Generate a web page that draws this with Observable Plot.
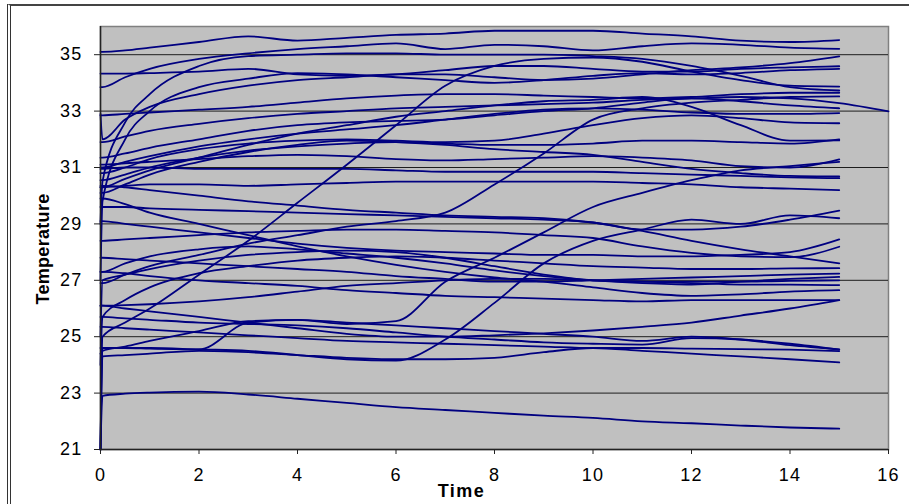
<!DOCTYPE html>
<html>
<head>
<meta charset="utf-8">
<script src="https://cdn.jsdelivr.net/npm/d3@7"></script>
<script src="https://cdn.jsdelivr.net/npm/@observablehq/plot@0.6"></script>
<style>
  html, body { margin: 0; padding: 0; background: #fff; }
  #wrap { position: relative; width: 909px; height: 504px; overflow: hidden; }
  #border { position: absolute; left: 7px; top: 4px; width: 1000px; height: 1000px;
            border-left: 4px double #333; border-top: 2px solid #444; box-sizing: border-box; }
  #chart { position: absolute; left: 0; top: 0; }
  #chart svg text { letter-spacing: 1.2px; }
  #chart svg .lbl text { letter-spacing: 1.5px; }
  #chart svg .lbly text { letter-spacing: 0.3px; }
</style>
</head>
<body>
<div id="wrap"><div id="border"></div><div id="chart"></div></div>
<script>
// Time samples (shared by every series)
const times = [0, 0.04, 0.5, 1, 2, 3, 4, 5, 6, 7, 8, 9, 10, 11, 12, 13, 14, 15, 16];

// Temperature series
const sA   = [35.1,35.1,35.15,35.25,35.45,35.65,35.5,35.6,35.7,35.75,35.85,35.85,35.85,35.75,35.65,35.5,35.45,35.52];
const sB   = [33.85,33.85,34.2,34.5,34.85,35.05,35.2,35.3,35.4,35.2,35.35,35.3,35.15,35.3,35.4,35.35,35.25,35.21];
const sC1  = [29.0,30.5,32.6,33.6,34.6,34.95,35.0,35.05,35.05,35.0,35.0,35.0,34.95,34.85,34.6,34.25,33.85,33.73];
const sD   = [34.33,34.33,34.33,34.35,34.4,34.5,34.3,34.25,34.3,34.45,34.6,34.6,34.5,34.4,34.4,34.5,34.55,34.59];
const sE   = [32.9,32.0,32.7,33.15,33.6,33.9,34.1,34.2,34.3,34.3,34.2,34.1,34.15,34.3,34.45,34.55,34.7,34.94];
const sC2  = [27.0,29.8,32.0,33.0,33.85,34.15,34.35,34.3,34.2,34.1,34.0,34.1,34.25,34.35,34.3,34.35,34.45,34.5];
const sD1  = [21.0,25.0,25.5,26.0,27.2,28.4,29.75,31.1,32.5,33.9,34.6,34.85,34.9,34.75,34.4,34.1,33.9,33.87];
const sF   = [32.85,32.85,32.9,32.95,33.05,33.15,33.3,33.45,33.55,33.6,33.6,33.55,33.5,33.45,33.5,33.6,33.65,33.65];
const sG   = [31.9,31.9,32.1,32.3,32.55,32.75,32.9,33.0,33.1,33.15,33.2,33.25,33.3,33.4,33.45,33.5,33.45,33.28,32.99];
const sH   = [31.35,31.35,31.5,31.7,32.0,32.3,32.5,32.6,32.65,32.7,32.85,33.0,33.1,33.3,33.45,33.35,33.2,33.1];
const sI   = [31.0,31.0,31.2,31.4,31.75,32.0,32.2,32.35,32.5,32.7,32.9,33.05,33.1,33.05,32.95,32.9,32.9,32.93];
const sJ   = [30.8,30.8,31.0,31.3,31.65,31.85,31.95,32.0,31.95,31.9,31.95,32.2,32.5,32.75,32.85,32.75,32.6,32.57];
const sK   = [30.55,30.55,30.75,31.0,31.35,31.6,31.75,31.85,31.9,31.85,31.8,31.8,31.85,31.95,31.95,31.9,31.85,32.0];
const sL   = [30.3,30.3,30.6,30.9,31.35,31.8,32.2,32.5,32.8,33.0,33.2,33.35,33.4,33.5,33.15,32.5,31.95,31.96];
const sM   = [31.1,31.1,31.15,31.2,31.3,31.4,31.45,31.4,31.3,31.25,31.3,31.35,31.4,31.35,31.25,31.05,31.0,31.29];
const sO   = [30.1,30.1,30.4,30.75,31.2,31.55,31.8,31.95,31.9,31.8,31.65,31.55,31.45,31.2,30.95,30.8,30.7,30.68];
const sP   = [30.95,30.95,31.0,31.0,30.95,30.95,30.95,30.95,30.9,30.85,30.85,30.85,30.85,30.8,30.75,30.7,30.65,30.62];
const sQ   = [30.3,30.3,30.35,30.4,30.4,30.35,30.4,30.45,30.5,30.5,30.5,30.5,30.5,30.45,30.4,30.3,30.25,30.2];
const sR   = [30.35,30.35,30.3,30.2,30.0,29.8,29.65,29.5,29.4,29.3,29.25,29.2,29.05,28.8,28.8,28.9,29.15,29.47];
const sS   = [29.1,29.1,29.0,28.9,28.7,28.5,28.3,28.15,28.05,28.0,27.95,27.9,27.9,27.85,27.85,27.9,28.0,28.45];
const sT   = [28.4,28.4,28.45,28.5,28.6,28.7,28.75,28.8,28.8,28.75,28.7,28.6,28.5,28.2,27.97,27.85,27.82,28.19];
const sU   = [29.6,29.6,29.6,29.55,29.5,29.45,29.4,29.35,29.3,29.25,29.2,29.15,29.05,28.75,28.4,28.1,27.85,27.6];
const sV   = [27.8,27.8,27.75,27.7,27.6,27.5,27.4,27.3,27.15,27.05,26.95,26.95,27.0,27.05,27.1,27.15,27.2,27.24];
const sW   = [27.3,27.3,27.6,27.85,28.1,28.2,28.1,27.95,27.8,27.6,27.35,27.15,27.0,26.9,26.85,26.95,27.05,27.12];
const sX   = [25.0,27.0,27.2,27.4,27.7,27.9,28.0,28.05,28.0,27.8,27.5,27.2,27.0,26.95,26.95,26.95,26.98,27.0];
const s26  = [26.1,26.1,26.12,26.15,26.25,26.4,26.6,26.8,26.9,27.0,27.05,27.05,27.0,26.95,26.9,26.85,26.85,26.83];
const sY   = [29.9,29.9,29.7,29.4,29.0,28.6,28.2,27.85,27.55,27.3,27.1,26.95,26.75,26.55,26.45,26.5,26.6,26.65];
const sZ   = [27.3,27.3,27.25,27.15,27.0,26.9,26.8,26.65,26.55,26.45,26.4,26.35,26.3,26.25,26.3,26.3,26.3,26.3];
const s263 = [26.1,26.1,26.0,25.9,25.7,25.5,25.3,25.1,25.0,25.0,25.05,25.12,25.22,25.35,25.5,25.75,26.0,26.3];
const sD2  = [24.4,24.5,24.65,24.85,25.2,25.55,25.6,25.45,25.55,26.95,27.8,28.7,29.6,30.1,30.55,30.9,31.05,31.2];
const sD3  = [21.0,24.6,24.6,24.6,24.55,24.5,24.35,24.2,24.15,24.9,26.2,27.6,28.4,28.8,29.15,29.0,29.3,29.2];
const sD4  = [26.9,26.9,27.2,27.5,27.9,28.3,28.6,28.9,29.1,29.4,30.4,31.5,32.7,33.1,33.3,33.4,33.5,33.52];
const sBB  = [24.0,25.7,26.3,26.75,27.25,27.5,27.7,27.8,27.85,27.8,27.7,27.6,27.5,27.45,27.4,27.4,27.42,27.43];
const sb1  = [21.0,24.3,24.35,24.4,24.5,24.45,24.35,24.25,24.2,24.2,24.25,24.45,24.6,24.5,24.4,24.3,24.2,24.09];
const sb3  = [25.7,25.7,25.65,25.6,25.5,25.45,25.4,25.3,25.15,25.0,24.9,24.8,24.75,24.72,24.95,24.9,24.75,24.54];
const sb5  = [24.6,24.6,24.6,24.58,24.55,25.5,25.6,25.5,25.4,25.3,25.2,25.1,25.0,24.85,25.0,24.9,24.7,24.55];
const sb6  = [25.35,25.35,25.3,25.25,25.15,25.05,24.95,24.85,24.8,24.75,24.7,24.65,24.6,24.6,24.58,24.56,24.54,24.49];
const sBot = [21.0,22.9,22.98,23.02,23.05,22.95,22.8,22.65,22.5,22.4,22.3,22.2,22.12,22.0,21.93,21.85,21.78,21.74];

const seriesList = [sA,sB,sC1,sD,sE,sC2,sD1,sF,sG,sH,sI,sJ,sK,sL,sM,sO,sP,sQ,sR,sS,sT,sU,sV,sW,sX,s26,sY,sZ,s263,sD2,sD3,sD4,sBB,sb1,sb3,sb5,sb6,sBot];

const xTicks = [0, 2, 4, 6, 8, 10, 12, 14, 16];
const yTicks = [21, 23, 25, 27, 29, 31, 33, 35];
const gridY  = [23, 25, 27, 29, 31, 33, 35];
const xTitle = "Time";
const yTitle = "Temperature";

const rows = [];
seriesList.forEach((vals, k) => {
  vals.forEach((v, i) => { if (v != null) rows.push({series: k, time: times[i], temp: v}); });
});

const chart = Plot.plot({
  width: 909,
  height: 504,
  marginLeft: 100,
  marginRight: 21,
  marginTop: 26,
  marginBottom: 55,
  style: {fontFamily: "'Liberation Sans', Arial, sans-serif", background: "transparent", color: "#000"},
  x: {domain: [0, 16]},
  y: {domain: [21, 36]},
  marks: [
    Plot.frame({fill: "#c0c0c0", stroke: "#808080", strokeWidth: 1.5}),
    Plot.ruleY(gridY, {stroke: "#000", strokeWidth: 1, strokeOpacity: 0.85}),
    Plot.line(rows, {x: "time", y: "temp", z: "series", stroke: "#000080", strokeWidth: 1.8, curve: "monotone-x"}),
    Plot.ruleX([0], {stroke: "#222", strokeWidth: 1.5}),
    Plot.ruleY([21], {stroke: "#222", strokeWidth: 1.5}),
    Plot.axisX({ticks: xTicks, tickSize: 5, tickPadding: 14, fontSize: 18, label: null, stroke: "#222"}),
    Plot.axisY({ticks: yTicks, tickSize: 6, tickPadding: 12, fontSize: 18, label: null, stroke: "#222"}),
    Plot.text([xTitle], {frameAnchor: "bottom", dx: -33, dy: 47, fontSize: 18, fontWeight: "bold", className: "lbl", text: d => d}),
    Plot.text([yTitle], {frameAnchor: "left", dx: -57, dy: 11, rotate: -90, textAnchor: "middle", lineAnchor: "middle", fontSize: 18, fontWeight: "bold", className: "lbly", text: d => d})
  ]
});
document.getElementById("chart").appendChild(chart);
</script>
</body>
</html>
